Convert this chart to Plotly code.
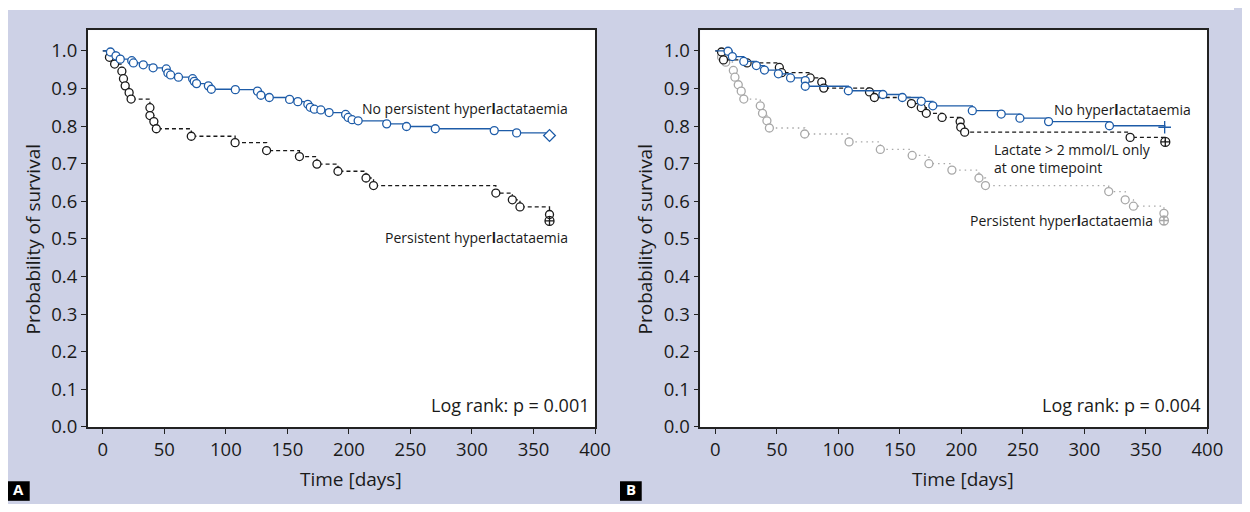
import plotly.graph_objects as go

# ---------------- data ----------------
# Panel A
a_nopers_days = [6.2, 10.7, 14.2, 23.5, 24.9, 32.9, 40.9, 51.6, 52.9, 55.1, 61.5, 73.0, 74.3, 76.2,
                 85.8, 88.2, 107.7, 125.7, 128.5, 135.3, 151.8, 158.5, 166.6, 168.6, 171.9, 177.2,
                 183.9, 197.3, 199.4, 202.6, 207.5, 230.7, 246.8, 270.2, 318.1, 336.3]
a_nopers_surv = [0.997, 0.987, 0.978, 0.974, 0.968, 0.963, 0.955, 0.952, 0.941, 0.936, 0.930, 0.926,
                 0.919, 0.913, 0.907, 0.898, 0.897, 0.893, 0.882, 0.876, 0.871, 0.865, 0.858, 0.850,
                 0.845, 0.843, 0.836, 0.831, 0.823, 0.817, 0.814, 0.806, 0.799, 0.793, 0.788, 0.782]
a_nopers_end = (363.0, 0.775)

a_pers_days = [5.4, 9.6, 15.5, 16.8, 18.2, 21.4, 23.0, 38.3, 38.3, 41.5, 43.5, 71.9, 107.5, 133.1,
               159.8, 174.0, 191.1, 213.9, 220.0, 319.4, 332.8, 339.0, 363.0]
a_pers_surv = [0.983, 0.965, 0.946, 0.926, 0.907, 0.889, 0.872, 0.849, 0.828, 0.812, 0.793, 0.773,
               0.756, 0.735, 0.719, 0.699, 0.680, 0.662, 0.642, 0.622, 0.604, 0.585, 0.565]
a_pers_end = (363.0, 0.548)

# Panel B
b_none_days = [10.3, 13.8, 23.1, 33.3, 39.9, 51.2, 61.1, 73.1, 73.1, 108.1, 136.2, 152.0, 167.4,
               176.8, 208.9, 232.4, 247.6, 270.9, 320.4]
b_none_surv = [0.999, 0.985, 0.972, 0.961, 0.949, 0.939, 0.928, 0.921, 0.906, 0.894, 0.884, 0.876,
               0.866, 0.854, 0.841, 0.832, 0.821, 0.812, 0.801]
b_none_end = (365.3, 0.797)

b_one_days = [5.0, 6.6, 25.8, 52.0, 53.9, 77.1, 86.5, 88.1, 125.3, 129.3, 159.4, 167.4, 171.5,
              184.3, 199.0, 199.5, 202.7, 337.2]
b_one_surv = [0.997, 0.976, 0.968, 0.956, 0.942, 0.928, 0.917, 0.901, 0.891, 0.876, 0.860, 0.849,
              0.834, 0.823, 0.812, 0.797, 0.784, 0.770]
b_one_end = (365.8, 0.758)

b_pers_days = [5.0, 8.4, 14.6, 15.9, 18.6, 21.0, 23.1, 36.5, 38.3, 41.9, 43.9, 72.6, 108.7, 134.1,
               160.0, 173.6, 192.3, 214.3, 219.6, 319.8, 333.2, 339.9, 364.7]
b_pers_surv = [0.984, 0.970, 0.948, 0.930, 0.910, 0.893, 0.872, 0.854, 0.834, 0.814, 0.795, 0.779,
               0.758, 0.738, 0.722, 0.700, 0.683, 0.662, 0.642, 0.626, 0.604, 0.587, 0.568]
b_pers_end = (364.7, 0.549)

x_ticks = [0, 50, 100, 150, 200, 250, 300, 350, 400]
y_ticks = [0.0, 0.1, 0.2, 0.3, 0.4, 0.5, 0.6, 0.7, 0.8, 0.9, 1.0]

# ---------------- style ----------------
OFF = 8  # default page body margin of the html page
W, H = 1250 - OFF, 512 - 2 * OFF  # fits the window with the body margins (no scrollbars)
BG = "#CDD1E6"
BLUE = "#1E5CA8"
BLACK = "#1a1a1a"
GRAY = "#A8A8A8"
FONT = "Open Sans"
TXT = "#1a1a1a"


def px(xp):
    """page x pixel -> paper fraction"""
    return (xp - OFF) / W


def py(yp):
    """page y pixel (from top) -> paper fraction"""
    return 1 - (yp - OFF) / H


fig = go.Figure()


def add_curve(days, surv, end, color, dash, end_symbol, xa, ya):
    xs = [0] + days + [end[0]]
    ys = [1.0] + surv + [end[1]]
    fig.add_trace(go.Scatter(x=xs, y=ys, mode="lines", line=dict(color=color, width=1.3, dash=dash, shape="hv"),
                             xaxis=xa, yaxis=ya, showlegend=False, hoverinfo="skip"))
    fig.add_trace(go.Scatter(x=days, y=surv, mode="markers",
                             marker=dict(symbol="circle", size=8, color="white", line=dict(color=color, width=1.3)),
                             xaxis=xa, yaxis=ya, showlegend=False))
    fig.add_trace(go.Scatter(x=[end[0]], y=[end[1]], mode="markers",
                             marker=dict(symbol=end_symbol, size=9, color="white" if "open" not in end_symbol else color,
                                         line=dict(color=color, width=1.3)),
                             xaxis=xa, yaxis=ya, showlegend=False))


add_curve(a_pers_days, a_pers_surv, a_pers_end, BLACK, "4px,3px", "circle-cross-open", "x", "y")
add_curve(a_nopers_days, a_nopers_surv, a_nopers_end, BLUE, "solid", "diamond", "x", "y")

add_curve(b_pers_days, b_pers_surv, b_pers_end, GRAY, "1.5px,4px", "circle-cross-open", "x2", "y2")
add_curve(b_one_days, b_one_surv, b_one_end, BLACK, "4px,3px", "circle-cross-open", "x2", "y2")
add_curve(b_none_days, b_none_surv, b_none_end, BLUE, "solid", "cross-thin-open", "x2", "y2")

axis_common = dict(showline=True, linecolor="#222", linewidth=1.5, mirror=True, ticks="outside",
                   ticklen=5, tickwidth=1.3, tickcolor="#222", showgrid=False, zeroline=False,
                   tickfont=dict(family=FONT, size=18.5, color=TXT))

xdomA = [px(88.7), px(602.7)]
xdomB = [px(709.3), px(1223)]
ydom = [py(436.5), py(30.7)]

fig.update_layout(
    width=W, height=H, autosize=False, margin=dict(l=0, r=0, t=0, b=0),
    paper_bgcolor=BG, plot_bgcolor="white",
    xaxis=dict(domain=xdomA, range=[-12.3, 400], tickvals=x_ticks, anchor="y", **axis_common),
    yaxis=dict(domain=ydom, range=[0, 1.055], tickvals=y_ticks, tickformat=".1f", anchor="x", **axis_common),
    xaxis2=dict(domain=xdomB, range=[-12.3, 400], tickvals=x_ticks, anchor="y2", **axis_common),
    yaxis2=dict(domain=ydom, range=[0, 1.055], tickvals=y_ticks, tickformat=".1f", anchor="x2", **axis_common),
)

shapes = [
    dict(type="rect", xref="paper", yref="paper", x0=0, x1=1, y0=py(10), y1=1,
         fillcolor="white", line=dict(width=0), layer="below"),
    dict(type="rect", xref="paper", yref="paper", x0=xdomA[0], x1=xdomA[1], y0=ydom[0], y1=ydom[1],
         fillcolor="white", line=dict(width=0), layer="below"),
    dict(type="rect", xref="paper", yref="paper", x0=xdomB[0], x1=xdomB[1], y0=ydom[0], y1=ydom[1],
         fillcolor="white", line=dict(width=0), layer="below"),
    dict(type="rect", xref="paper", yref="paper", x0=px(8), x1=px(30), y0=py(512), y1=py(492),
         fillcolor="black", line=dict(width=0)),
    dict(type="rect", xref="paper", yref="paper", x0=px(628), x1=px(650), y0=py(512), y1=py(492),
         fillcolor="black", line=dict(width=0)),
]
fig.update_layout(shapes=shapes)

ann = []
f14 = dict(family=FONT, size=14, color=TXT)
f18 = dict(family=FONT, size=18, color=TXT)


def txt(x, y, s, xa, ya, xanchor="right", font=f14):
    ann.append(dict(x=x, y=y, xref=xa, yref=ya, text=s, showarrow=False, xanchor=xanchor,
                    yanchor="middle", font=font, align="left"))


txt(380, 0.847, "No persistent hyper<b>l</b>actataemia", "x", "y")
txt(380, 0.503, "Persistent hyper<b>l</b>actataemia", "x", "y")
txt(397, 0.058, "Log rank: p = 0.001", "x", "y", font=f18)

txt(388.5, 0.845, "No hyper<b>l</b>actataemia", "x2", "y2")
txt(225, 0.713, "Lactate > 2 mmol/L only<br>at one timepoint", "x2", "y2", xanchor="left")
txt(357.3, 0.548, "Persistent hyper<b>l</b>actataemia", "x2", "y2")
txt(395.5, 0.058, "Log rank: p = 0.004", "x2", "y2", font=f18)

ftitle = dict(family=FONT, size=19, color=TXT)
for xc in (33, 653):
    ann.append(dict(x=px(xc), y=py(245), xref="paper", yref="paper", text="Probability of survival",
                    textangle=-90, showarrow=False, font=ftitle, xanchor="center", yanchor="middle"))
for xc in (355, 975):
    ann.append(dict(x=px(xc), y=py(490), xref="paper", yref="paper", text="Time [days]",
                    showarrow=False, font=ftitle, xanchor="center", yanchor="middle"))
for xc, lab in ((19, "A"), (639, "B")):
    ann.append(dict(x=px(xc), y=py(500), xref="paper", yref="paper", text="<b>" + lab + "</b>",
                    showarrow=False, font=dict(family=FONT, size=15, color="white"),
                    xanchor="center", yanchor="middle"))

fig.update_layout(annotations=ann)
fig.write_html("out.html", config={"displayModeBar": False})
